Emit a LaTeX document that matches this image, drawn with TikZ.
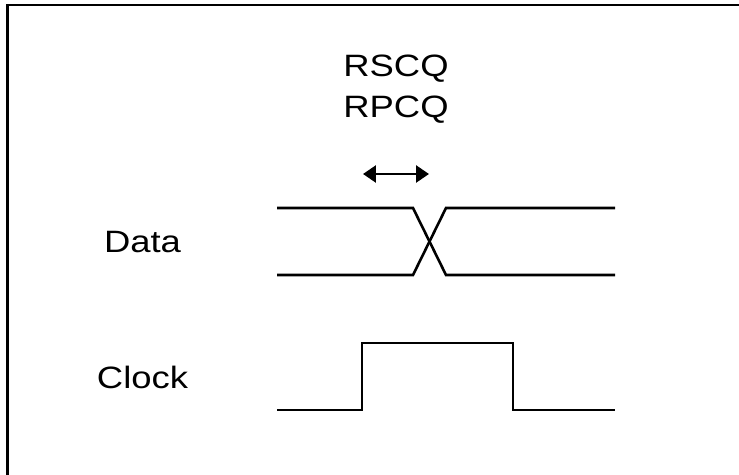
\documentclass[tikz,border=0pt]{standalone}
\usepackage{fontspec}
\setmainfont{Liberation Sans}
\usepackage{graphicx}
\usetikzlibrary{arrows.meta,positioning}
\definecolor{trait}{HTML}{000000}
\newcommand{\etire}[1]{\scalebox{1.18}[1]{#1}}
\tikzset{
  etiquette/.style={font=\fontsize{31}{37}\selectfont,inner sep=0pt,anchor=base,text=trait},
  signal/.style={line width=2.6pt,color=trait,line join=miter},
  fleche/.style={{Triangle[length=13pt,width=17pt]}-{Triangle[length=13pt,width=17pt]},line width=2.6pt,color=trait},
}
\begin{document}
\begin{tikzpicture}[x=1bp,y=-1bp]
  \useasboundingbox (0,0) rectangle (739,475);
  \draw[line width=3pt] (7.5,480) |- (745,5);
  \node[etiquette] (rscq) at (396,77) {\etire{RSCQ}};
  \node[etiquette] (rpcq) at (396,118) {\etire{RPCQ}};
  \node[etiquette] (data) at (142.5,253) {\etire{Data}};
  \node[etiquette] (clock) at (142.5,388) {\etire{Clock}};
  \coordinate (tmin) at (363,174);
  \coordinate (tmax) at (429,174);
  \draw[fleche] (tmin) -- (tmax);
  % donnees
  \draw[signal] (277,208) -- (413,208) -- (446,275) -- (615,275);
  \draw[signal] (277,275) -- (413,275) -- (446,208) -- (615,208);
  % horloge
  \draw[signal] (277,410) -- (362,410) -- (362,343) -- (513,343) -- (513,410) -- (615,410);
\end{tikzpicture}
\end{document}
